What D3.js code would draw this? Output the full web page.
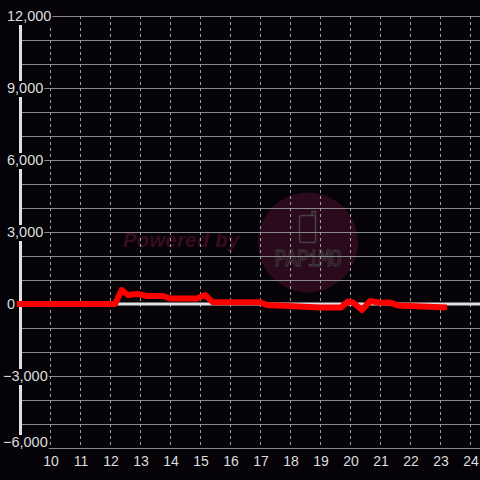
<!DOCTYPE html>
<html>
<head>
<meta charset="UTF-8">
<script src="https://cdn.jsdelivr.net/npm/d3@7"></script>
<style>
  html, body { margin: 0; padding: 0; background: #050307; }
  svg { display: block; }
</style>
</head>
<body>
<div id="chart"></div>
<script>
    // readings: hour -> value
    var hours  = [8.9, 12.17, 12.39, 12.6, 12.9, 13.23, 13.77, 14.0, 14.9, 15.17, 15.43, 17.0, 17.23, 19.0, 19.7, 19.93, 20.1, 20.4, 20.67, 21.0, 21.33, 21.6, 22.0, 23.23];
    var values = [0, 0, 583, 375, 420, 333, 333, 230, 230, 375, 70, 70, -40, -150, -150, 100, 60, -250, 125, 55, 60, -60, -80, -145];
    var xTicks = [10, 11, 12, 13, 14, 15, 16, 17, 18, 19, 20, 21, 22, 23, 24];
    var yLabelTicks = [12000, 9000, 6000, 3000, 0, -3000, -6000];
    var yGridTicks = d3.range(-6000, 12001, 1000);

    var width = 480, height = 480;
    var x = d3.scaleLinear().domain([10, 24]).range([50, 470]);
    var y = d3.scaleLinear().domain([-6000, 12000]).range([448, 16]);
    var axisX = 20.5;

    var svg = d3.select('#chart').append('svg')
        .attr('width', width)
        .attr('height', height);

    svg.append('rect')
        .attr('width', width).attr('height', height)
        .attr('fill', '#050307');

    // watermark
    var wm = svg.append('g');
    wm.append('text')
        .attr('x', 123).attr('y', 247)
        .attr('textLength', 116)
        .style('font', 'italic bold 20px "Liberation Sans", Arial, sans-serif')
        .style('fill', '#380c1e')
        .text('Powered by');
    wm.append('circle')
        .attr('cx', 308).attr('cy', 242.5).attr('r', 50)
        .attr('fill', '#2b0a1d');
    wm.append('rect')
        .attr('x', 299.5).attr('y', 215.5).attr('width', 16).attr('height', 27).attr('rx', 2)
        .attr('fill', 'none').attr('stroke', '#444').attr('stroke-width', 1.5);
    wm.append('path')
        .attr('d', 'M312,215.5 V211.5 H315.5 V215.5')
        .attr('fill', 'none').attr('stroke', '#444').attr('stroke-width', 1.5);
    wm.append('text')
        .attr('x', 274).attr('y', 266)
        .attr('textLength', 68)
        .style('font', '21px "DejaVu Sans Mono", monospace')
        .style('fill', 'none').style('stroke', '#404040').style('stroke-width', 0.8)
        .text('PAPiMO');

    // horizontal grid
    svg.append('g').selectAll('line')
        .data(yGridTicks.filter(function(d){ return d !== 0; }))
        .enter().append('line')
        .attr('x1', axisX).attr('x2', width)
        .attr('y1', function(d){ return Math.round(y(d)) + 0.5; })
        .attr('y2', function(d){ return Math.round(y(d)) + 0.5; })
        .attr('stroke', '#8a8a8a').attr('stroke-width', 1);

    // vertical dashed grid
    svg.append('g').selectAll('line')
        .data(xTicks)
        .enter().append('line')
        .attr('x1', function(d){ return x(d) + 0.5; })
        .attr('x2', function(d){ return x(d) + 0.5; })
        .attr('y1', y(12000)).attr('y2', y(-6000))
        .attr('stroke', '#a0a0a0').attr('stroke-width', 1)
        .attr('stroke-dasharray', '3,3');

    // zero line and y axis
    svg.append('line')
        .attr('x1', axisX).attr('x2', width)
        .attr('y1', y(0)).attr('y2', y(0))
        .attr('stroke', '#e0e0e0').attr('stroke-width', 3);
    svg.append('line')
        .attr('x1', axisX).attr('x2', axisX)
        .attr('y1', y(12000)).attr('y2', y(-6000))
        .attr('stroke', '#e0e0e0').attr('stroke-width', 3);

    // series
    var line = d3.line()
        .x(function(d){ return x(d[0]); })
        .y(function(d){ return y(d[1]); });
    svg.append('path')
        .datum(d3.zip(hours, values))
        .attr('d', line)
        .attr('fill', 'none')
        .attr('stroke', '#ff0000')
        .attr('stroke-width', 6)
        .attr('stroke-linejoin', 'round');

    // y labels with a black backing
    var fmt = d3.format(',');
    var gy = svg.append('g');
    yLabelTicks.forEach(function(v){
        var ty = Math.min(y(v), 442);
        var t = gy.append('text')
            .attr('x', v < 0 ? 3 : 7)
            .attr('y', ty)
            .attr('dy', '0.36em')
            .style('font', '14.5px "Liberation Sans", Arial, sans-serif')
            .style('fill', '#dddddd')
            .text(fmt(v));
        var b = t.node().getBBox();
        gy.insert('rect', 'text')
            .attr('x', b.x - 1).attr('y', ty - 7)
            .attr('width', b.width + 2).attr('height', 16)
            .attr('fill', '#050307');
    });

    // x labels
    svg.append('g').selectAll('text')
        .data(xTicks)
        .enter().append('text')
        .attr('x', function(d){ return x(d) + 1; })
        .attr('y', 461)
        .attr('dy', '0.36em')
        .attr('text-anchor', 'middle')
        .style('font', '14px "Liberation Sans", Arial, sans-serif')
        .style('fill', '#dddddd')
        .text(function(d){ return d; });
</script>
</body>
</html>
